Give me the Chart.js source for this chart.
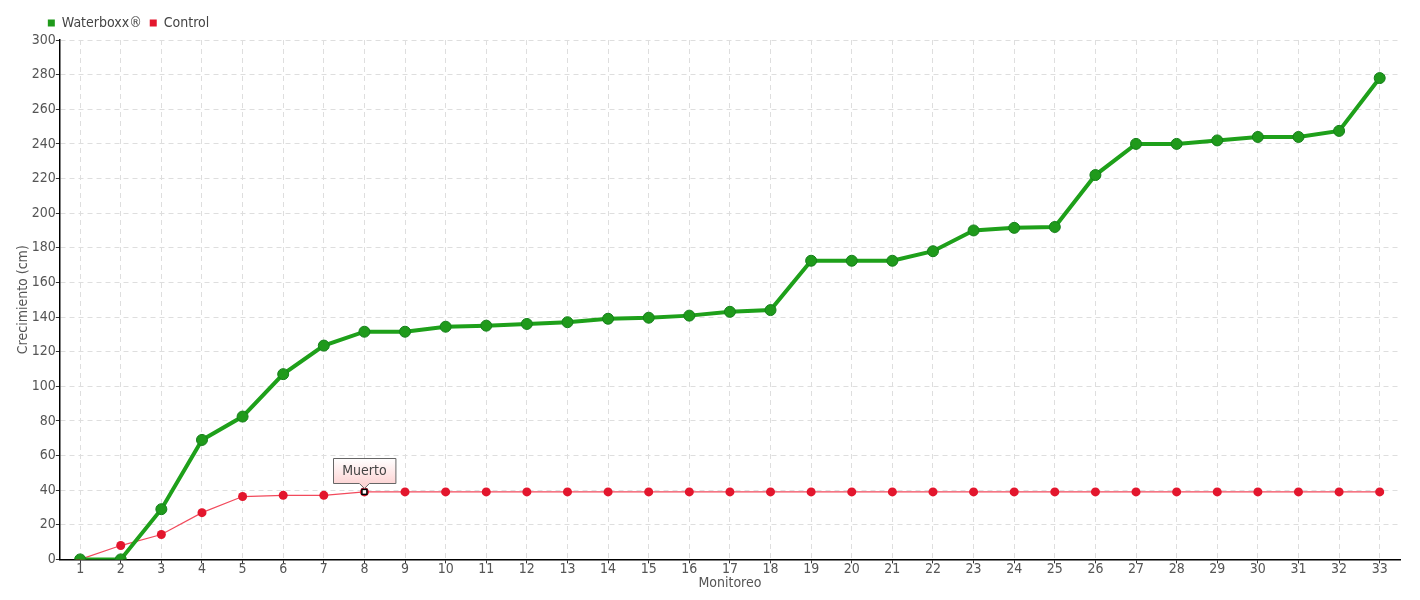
<!DOCTYPE html>
<html>
<head>
<meta charset="utf-8">
<script src="https://cdn.jsdelivr.net/npm/chart.js@4.4.0/dist/chart.umd.min.js"></script>
<style>
  html, body { margin: 0; padding: 0; background: #fff; }
  #wrap { width: 1420px; height: 600px; }
</style>
</head>
<body>
<div id="wrap"><canvas id="chart"></canvas></div>
<script>
  // datos
  const monitoreo = Array.from({ length: 33 }, (_, i) => String(i + 1));
  const waterboxx = [0, 0, 29, 69, 82.5, 107, 123.5, 131.5, 131.5, 134.4, 135, 136, 137, 139, 139.6, 140.8,
    143, 144, 172.5, 172.5, 172.5, 178, 190, 191.5, 192, 222, 240, 240, 242, 244, 244, 247.5, 278];
  const control = [0, 8, 14.4, 27, 36.3, 37, 37, 39, 39, 39, 39, 39, 39, 39, 39, 39,
    39, 39, 39, 39, 39, 39, 39, 39, 39, 39, 39, 39, 39, 39, 39, 39, 39];
  const nota = { index: 7, texto: 'Muerto' };

  const FONT = '"DejaVu Sans Condensed", "Liberation Sans Narrow", sans-serif';

  // etiqueta "Muerto" sobre el punto de control + leyenda alineada con el eje
  const notaPlugin = {
    id: 'nota',
    beforeDraw(chart) {
      chart.legend.left = chart.chartArea.left - 20;
    },
    afterDatasetsDraw(chart) {
      const ctx = chart.ctx;
      const x = chart.scales.x.getPixelForValue(nota.index);
      const y = chart.scales.y.getPixelForValue(control[nota.index]);
      ctx.save();
      // marcador cuadrado
      ctx.fillStyle = '#fff';
      ctx.strokeStyle = '#000';
      ctx.lineWidth = 1.5;
      ctx.fillRect(x - 2.5, y - 2.5, 5, 5);
      ctx.strokeRect(x - 2.5, y - 2.5, 5, 5);
      // caja
      ctx.font = '14px ' + FONT;
      const w = ctx.measureText(nota.texto).width + 18;
      const h = 25;
      const bx = Math.round(x - w / 2) + 0.5;
      const by = Math.round(y - 9 - h) + 0.5;
      const grad = ctx.createLinearGradient(0, by, 0, by + h);
      grad.addColorStop(0, '#ffffff');
      grad.addColorStop(1, '#fdd5d5');
      ctx.beginPath();
      ctx.moveTo(bx, by);
      ctx.lineTo(bx + w, by);
      ctx.lineTo(bx + w, by + h);
      ctx.lineTo(x + 5, by + h);
      ctx.lineTo(x, by + h + 5);
      ctx.lineTo(x - 5, by + h);
      ctx.lineTo(bx, by + h);
      ctx.closePath();
      ctx.fillStyle = grad;
      ctx.fill();
      ctx.strokeStyle = '#666';
      ctx.lineWidth = 1;
      ctx.stroke();
      ctx.fillStyle = '#444';
      ctx.textAlign = 'center';
      ctx.textBaseline = 'middle';
      ctx.fillText(nota.texto, x, by + h / 2);
      ctx.restore();
    }
  };

  new Chart(document.getElementById('chart'), {
    type: 'line',
    data: {
      labels: monitoreo,
      datasets: [{
        label: 'Waterboxx®',
        data: waterboxx,
        borderColor: '#1ea01a',
        backgroundColor: '#1f9a1b',
        borderWidth: 4,
        pointRadius: 5.5,
        pointBorderColor: '#14801a',
        pointBorderWidth: 1,
        tension: 0
      }, {
        label: 'Control',
        data: control,
        borderColor: '#f24a5c',
        backgroundColor: '#e3162d',
        borderWidth: 1.2,
        pointRadius: 4.5,
        pointBorderColor: '#e3162d',
        pointBorderWidth: 0,
        tension: 0
      }]
    },
    plugins: [notaPlugin],
    options: {
      responsive: true,
      maintainAspectRatio: false,
      animation: false,
      layout: { padding: { left: 8, right: 20, top: 8, bottom: 8 } },
      plugins: {
        legend: {
          display: true,
          align: 'start',
          labels: {
            boxWidth: 7,
            boxHeight: 7,
            padding: 8,
            color: '#444',
            font: { size: 14, family: FONT },
            generateLabels(chart) {
              return chart.data.datasets.map((ds, i) => ({
                text: ds.label,
                fillStyle: ds.backgroundColor,
                strokeStyle: ds.backgroundColor,
                lineWidth: 0,
                datasetIndex: i,
                fontColor: '#444'
              }));
            }
          }
        },
        tooltip: { enabled: false }
      },
      scales: {
        x: {
          offset: true,
          grid: {
            offset: false,
            color: '#dedede',
            tickColor: '#333',
            tickLength: 4,
            tickBorderDash: [0, 0]
          },
          border: { color: '#000', width: 1.5, dash: [5, 4] },
          ticks: { color: '#555', font: { size: 14, family: FONT }, padding: -2, autoSkip: false, maxRotation: 0 },
          title: { display: true, text: 'Monitoreo', color: '#555', font: { size: 14, family: FONT }, padding: { top: -1, bottom: 0 } }
        },
        y: {
          min: 0,
          max: 300,
          grid: {
            color: '#dedede',
            tickColor: '#333',
            tickLength: 4,
            tickBorderDash: [0, 0]
          },
          border: { color: '#000', width: 1.5, dash: [5, 4] },
          ticks: { stepSize: 20, color: '#555', font: { size: 14, family: FONT }, padding: 0 },
          title: { display: true, text: 'Crecimiento (cm)', color: '#555', font: { size: 14, family: FONT }, padding: { top: 7, bottom: 0 } }
        }
      }
    }
  });
</script>
</body>
</html>
